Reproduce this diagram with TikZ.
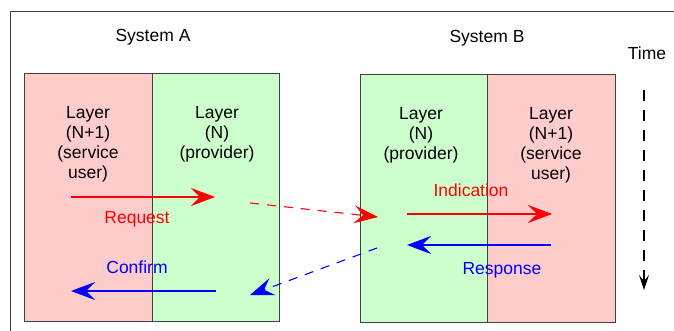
\documentclass[tikz,border=0pt]{standalone}
\usepackage{fontspec}
\setmainfont{Liberation Sans}
\usetikzlibrary{arrows.meta}
\definecolor{userpink}{HTML}{FFCCCC}
\definecolor{provgreen}{HTML}{CCFFCC}
\definecolor{frame}{HTML}{404040}
\begin{document}
\begin{tikzpicture}[x=1pt,y=-1pt,
  txt/.style={font=\fontsize{17.5}{20}\selectfont, align=center, inner sep=0pt},
  boxline/.style={draw=frame, line width=1pt},
  big/.style={-{Stealth[length=24pt,width=18pt,inset=9pt]}, line width=1.1pt},
  dsh/.style={dash pattern=on 9pt off 8pt}]
\useasboundingbox (0,0) rectangle (674,331);
\begin{scope}
\clip (0,0) rectangle (674,331);
\draw[boxline] (10,12) rectangle (690,345);
\end{scope}
% System A
\path[fill=userpink] (24,74) rectangle (152,321);
\path[fill=provgreen] (152,74) rectangle (279,321);
\draw[boxline] (24,74) rectangle (279,321);
\draw[boxline] (152,74) -- (152,321);
% System B
\path[fill=provgreen] (360,75) rectangle (487,322);
\path[fill=userpink] (487,75) rectangle (615,322);
\draw[boxline] (360,75) rectangle (615,322);
\draw[boxline] (487,75) -- (487,322);
% titles
\node[txt] (sysA) at (153,37) {System A};
\node[txt] (sysB) at (487,38) {System B};
\node[txt] (time) at (647,53) {Time};
% layer labels
\node[txt] (aUser) at (88,144) {Layer\\(N+1)\\(service\\user)};
\node[txt] (aProv) at (217,134) {Layer\\(N)\\(provider)};
\node[txt] (bProv) at (421,135) {Layer\\(N)\\(provider)};
\node[txt] (bUser) at (551,145) {Layer\\(N+1)\\(service\\user)};
% arrow labels
\node[txt, text=red] (req) at (137,219) {Request};
\node[txt, text=blue] (conf) at (137,267) {Confirm};
\node[txt, text=red] (ind) at (471,190) {Indication};
\node[txt, text=blue] (resp) at (502,270) {Response};
% coordinates
\coordinate (reqS) at (71,197);
\coordinate (reqE) at (215,197);
\coordinate (netS) at (250,203);
\coordinate (netE) at (378,217);
\coordinate (indS) at (407,214);
\coordinate (indE) at (552,214);
\coordinate (resS) at (551,245);
\coordinate (resE) at (407,245);
\coordinate (cnS) at (377,248);
\coordinate (cnE) at (250,295);
\coordinate (cfS) at (216,291);
\coordinate (cfE) at (71,291);
\coordinate (tS) at (644,90);
\coordinate (tE) at (644,290);
% arrows
\draw[big, red] (reqS) -- (reqE);
\draw[big, red, dsh] (netS) -- (netE);
\draw[big, red] (indS) -- (indE);
\draw[big, blue] (resS) -- (resE);
\draw[big, blue, dsh] (cnS) -- (cnE);
\draw[big, blue] (cfS) -- (cfE);
\draw[-{Stealth[length=15pt,width=10pt,inset=6pt]}, line width=1.1pt, dash pattern=on 11pt off 9pt] (tS) -- (tE);
\end{tikzpicture}
\end{document}
